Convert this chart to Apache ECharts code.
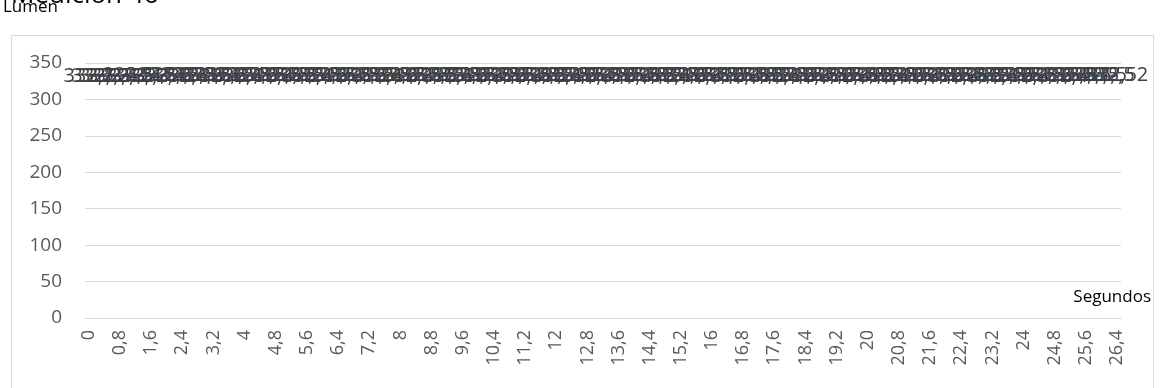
<!DOCTYPE html>
<html><head><meta charset="utf-8">
<script src="https://cdn.jsdelivr.net/npm/echarts@6/dist/echarts.min.js"></script>
<style>html,body{margin:0;padding:0;background:#fff}#c{width:1160px;height:388px}</style>
</head><body><div id="c"></div>
<script>
var titleText = "Medición 46";
var yName = "Lumen";
var xName = "Segundos";
var categories = [
"0","0,2","0,4","0,6","0,8","1","1,2","1,4","1,6","1,8",
"2","2,2","2,4","2,6","2,8","3","3,2","3,4","3,6","3,8",
"4","4,2","4,4","4,6","4,8","5","5,2","5,4","5,6","5,8",
"6","6,2","6,4","6,6","6,8","7","7,2","7,4","7,6","7,8",
"8","8,2","8,4","8,6","8,8","9","9,2","9,4","9,6","9,8",
"10","10,2","10,4","10,6","10,8","11","11,2","11,4","11,6","11,8",
"12","12,2","12,4","12,6","12,8","13","13,2","13,4","13,6","13,8",
"14","14,2","14,4","14,6","14,8","15","15,2","15,4","15,6","15,8",
"16","16,2","16,4","16,6","16,8","17","17,2","17,4","17,6","17,8",
"18","18,2","18,4","18,6","18,8","19","19,2","19,4","19,6","19,8",
"20","20,2","20,4","20,6","20,8","21","21,2","21,4","21,6","21,8",
"22","22,2","22,4","22,6","22,8","23","23,2","23,4","23,6","23,8",
"24","24,2","24,4","24,6","24,8","25","25,2","25,4","25,6","25,8",
"26","26,2","26,4"
];
var lumenValues = [
332.1,332.3,332.2,332.4,332.3,332.5,332.4,332.3,332.5,332.4,
332.6,332.5,332.4,332.5,332.6,332.5,332.4,332.6,332.5,332.4,
332.5,332.6,332.5,332.4,332.5,332.6,332.5,332.5,332.4,332.5,
332.6,332.5,332.4,332.5,332.5,332.6,332.5,332.4,332.5,332.6,
332.5,332.4,332.5,332.6,332.5,332.5,332.4,332.5,332.6,332.5,
332.4,332.5,332.5,332.6,332.5,332.4,332.5,332.6,332.5,332.5,
332.4,332.5,332.6,332.5,332.4,332.5,332.5,332.6,332.5,332.4,
332.5,332.6,332.5,332.5,332.4,332.5,332.6,332.5,332.4,332.5,
332.5,332.6,332.5,332.4,332.5,332.6,332.5,332.5,332.4,332.5,
332.6,332.5,332.4,332.5,332.5,332.6,332.5,332.4,332.5,332.6,
332.5,332.5,332.4,332.5,332.6,332.5,332.4,332.5,332.5,332.6,
332.5,332.4,332.5,332.6,332.5,332.5,332.4,332.5,332.6,332.5,
332.4,332.5,332.5,332.6,332.5,332.4,332.5,332.6,332.5,332.5,
332.5,332.5,332.52
];
var yTicks = [0,50,100,150,200,250,300,350];

var chart = echarts.init(document.getElementById('c'), null, {renderer:'canvas'});
var FONT = '"Open Sans","Liberation Sans",sans-serif';
chart.setOption({
  animation:false,
  backgroundColor:'#fff',
  title:{text:titleText,left:6,top:-22,textStyle:{fontFamily:FONT,fontSize:26,fontWeight:'normal',color:'#000'}},
  graphic:[
    {type:'rect',left:9,top:33,shape:{width:1142,height:400},style:{fill:'none',stroke:'#d9d9d9',lineWidth:1},silent:true},
    {type:'text',left:3,top:-1,style:{text:yName,font:'17px "Open Sans","Liberation Sans",sans-serif',fill:'#000'},silent:true},
    {type:'text',right:9,top:289,style:{text:xName,font:'17px "Open Sans","Liberation Sans",sans-serif',fill:'#000'},silent:true}
  ],
  grid:{left:85,right:39,top:63,bottom:70,containLabel:false,outerBoundsMode:'none'},
  xAxis:{
    type:'category',data:categories,boundaryGap:true,
    axisLine:{lineStyle:{color:'#d9d9d9',width:1}},
    axisTick:{show:false},
    axisLabel:{interval:3,rotate:90,fontFamily:FONT,fontSize:18,color:'#595959',margin:12}
  },
  yAxis:{
    type:'value',min:0,max:350,interval:50,
    axisLine:{show:false},axisTick:{show:false},
    axisLabel:{fontFamily:FONT,fontSize:19,color:'#595959',margin:23},
    splitLine:{lineStyle:{color:'#d9d9d9',width:1}}
  },
  series:[{
    type:'line',data:lumenValues,symbol:'circle',symbolSize:2,showSymbol:true,showAllSymbol:true,
    itemStyle:{color:'transparent'},
    lineStyle:{color:'#4472C4',width:2.25},
    label:{show:true,position:'inside',offset:[-4,1],fontFamily:FONT,fontSize:20,color:'#404040',
      formatter:function(p){return String(p.value).replace('.',',');}},
    labelLayout:{hideOverlap:false},
    z:3
  }]
});
</script></body></html>
